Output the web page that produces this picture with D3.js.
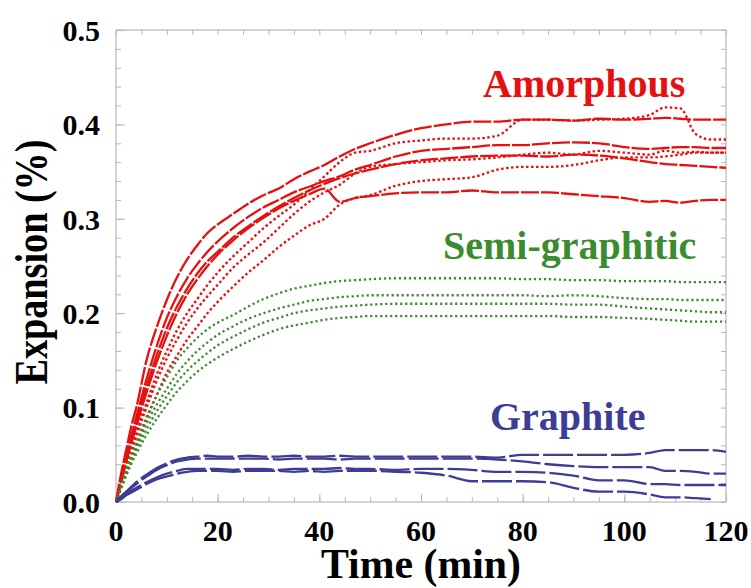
<!DOCTYPE html>
<html>
<head>
<meta charset="utf-8">
<script src="https://cdn.jsdelivr.net/npm/d3@7"></script>
<style>
  body { margin: 0; background: #fff; }
  svg { display: block; }
  text { font-family: "Liberation Serif", "Times New Roman", serif; font-weight: bold; }
</style>
</head>
<body>
<svg id="chart" width="751" height="588"></svg>
<script>
// time grid (min) shared by every curve
var time = [0,1,2,3,4,6,8,10,12,14,16,18,20,23,26,29,32,35,38,41,44,47,50,55,60,65,70,75,80,85,90,95,100,105,108,111,114,117,120];

// Amorphous (red) - long dash curves
var amorph1 = [0,0.03,0.055,0.08,0.1,0.15,0.185,0.214,0.238,0.257,0.272,0.285,0.294,0.305,0.316,0.325,0.332,0.342,0.35,0.357,0.366,0.374,0.38,0.389,0.396,0.4,0.403,0.403,0.405,0.405,0.404,0.406,0.405,0.406,0.407,0.406,0.405,0.405,0.405];
var amorph2 = [0,0.025,0.05,0.07,0.09,0.13,0.165,0.195,0.218,0.237,0.252,0.265,0.276,0.29,0.302,0.312,0.32,0.328,0.334,0.34,0.345,0.352,0.357,0.366,0.372,0.374,0.376,0.378,0.378,0.38,0.381,0.38,0.376,0.374,0.375,0.376,0.376,0.375,0.375];
var amorph3 = [0,0.022,0.045,0.065,0.084,0.122,0.155,0.184,0.207,0.226,0.242,0.255,0.265,0.28,0.292,0.303,0.313,0.322,0.33,0.337,0.343,0.348,0.352,0.358,0.362,0.364,0.366,0.367,0.367,0.366,0.368,0.367,0.364,0.36,0.358,0.357,0.356,0.355,0.354];
var amorph4 = [0,0.02,0.042,0.062,0.08,0.116,0.148,0.176,0.2,0.22,0.236,0.25,0.262,0.277,0.29,0.301,0.311,0.319,0.326,0.332,0.318,0.322,0.324,0.327,0.328,0.328,0.33,0.328,0.328,0.328,0.326,0.324,0.322,0.318,0.319,0.317,0.319,0.32,0.32];
// Amorphous (red) - dotted curves
var amorph5 = [0,0.02,0.04,0.058,0.075,0.105,0.135,0.16,0.182,0.2,0.215,0.23,0.243,0.26,0.275,0.29,0.303,0.315,0.33,0.345,0.36,0.37,0.372,0.38,0.383,0.385,0.385,0.388,0.405,0.405,0.404,0.405,0.406,0.41,0.418,0.417,0.39,0.384,0.384];
var amorph6 = [0,0.018,0.036,0.053,0.07,0.1,0.128,0.152,0.172,0.19,0.205,0.218,0.23,0.248,0.262,0.275,0.29,0.305,0.318,0.328,0.336,0.348,0.355,0.358,0.36,0.362,0.363,0.365,0.368,0.37,0.368,0.372,0.37,0.368,0.372,0.37,0.371,0.37,0.37];
var amorph7 = [0,0.015,0.03,0.045,0.06,0.088,0.113,0.137,0.155,0.172,0.186,0.2,0.212,0.228,0.243,0.256,0.27,0.282,0.293,0.3,0.315,0.322,0.325,0.335,0.34,0.342,0.344,0.352,0.355,0.355,0.357,0.362,0.365,0.365,0.366,0.368,0.37,0.37,0.37];

// Semi-graphitic (green) - dotted curves
var semi1 = [0,0.018,0.035,0.05,0.064,0.09,0.113,0.132,0.15,0.163,0.174,0.183,0.19,0.198,0.207,0.215,0.221,0.226,0.229,0.232,0.234,0.235,0.236,0.237,0.237,0.237,0.237,0.237,0.236,0.236,0.235,0.235,0.234,0.234,0.234,0.233,0.233,0.233,0.233];
var semi2 = [0,0.016,0.032,0.046,0.059,0.083,0.103,0.12,0.136,0.149,0.16,0.169,0.177,0.186,0.194,0.2,0.205,0.209,0.213,0.215,0.217,0.218,0.219,0.219,0.219,0.219,0.219,0.219,0.219,0.218,0.219,0.218,0.216,0.215,0.215,0.214,0.214,0.214,0.214];
var semi3 = [0,0.015,0.03,0.043,0.055,0.077,0.096,0.112,0.127,0.139,0.149,0.158,0.166,0.175,0.183,0.19,0.195,0.2,0.203,0.205,0.207,0.208,0.209,0.21,0.21,0.21,0.21,0.21,0.21,0.21,0.209,0.209,0.207,0.205,0.204,0.203,0.202,0.201,0.201];
var semi4 = [0,0.014,0.028,0.04,0.051,0.071,0.088,0.103,0.117,0.128,0.138,0.146,0.153,0.162,0.17,0.177,0.183,0.187,0.19,0.193,0.195,0.196,0.197,0.197,0.197,0.197,0.197,0.197,0.197,0.197,0.196,0.196,0.195,0.194,0.193,0.192,0.191,0.191,0.191];

// Graphite (blue) - long dash curves
var graph1 = [0,0.006,0.011,0.016,0.021,0.029,0.036,0.041,0.045,0.047,0.048,0.049,0.048,0.048,0.049,0.048,0.048,0.049,0.048,0.048,0.049,0.048,0.048,0.048,0.048,0.048,0.048,0.047,0.05,0.05,0.05,0.05,0.05,0.052,0.055,0.055,0.055,0.055,0.053];
var graph2 = [0,0.005,0.01,0.015,0.019,0.027,0.034,0.039,0.043,0.045,0.046,0.046,0.046,0.046,0.046,0.046,0.045,0.046,0.046,0.046,0.045,0.046,0.046,0.046,0.046,0.046,0.046,0.045,0.043,0.04,0.038,0.037,0.037,0.037,0.033,0.033,0.032,0.03,0.03];
var graph3 = [0,0.004,0.008,0.012,0.015,0.021,0.026,0.03,0.033,0.035,0.035,0.035,0.035,0.034,0.035,0.035,0.034,0.035,0.035,0.035,0.036,0.035,0.035,0.034,0.035,0.035,0.034,0.032,0.032,0.031,0.028,0.023,0.023,0.019,0.019,0.018,0.018,0.018,0.018];
var graph4 = [0,0.003,0.007,0.01,0.013,0.019,0.024,0.027,0.03,0.032,0.033,0.033,0.033,0.032,0.033,0.033,0.033,0.032,0.033,0.032,0.033,0.033,0.033,0.032,0.031,0.028,0.022,0.022,0.022,0.021,0.015,0.011,0.011,0.008,0.005,0.005,0.004,0.003,null];

// tick labels
var xTicks = [0,20,40,60,80,100,120];
var yTicks = [0.0,0.1,0.2,0.3,0.4,0.5];

var red = "#e5100f", green = "#3b8c2e", blue = "#3d3d98";
var series = [
  {v: amorph1, c: red, dash: "18,2"},
  {v: amorph2, c: red, dash: "18,2"},
  {v: amorph3, c: red, dash: "18,2"},
  {v: amorph4, c: red, dash: "18,2"},
  {v: amorph5, c: red, dash: "2.5,2.5"},
  {v: amorph6, c: red, dash: "2.5,2.5"},
  {v: amorph7, c: red, dash: "2.5,2.5"},
  {v: semi1, c: green, dash: "2.2,2.8"},
  {v: semi2, c: green, dash: "2.2,2.8"},
  {v: semi3, c: green, dash: "2.2,2.8"},
  {v: semi4, c: green, dash: "2.2,2.8"},
  {v: graph1, c: blue, dash: "30,4"},
  {v: graph2, c: blue, dash: "30,4"},
  {v: graph3, c: blue, dash: "30,4"},
  {v: graph4, c: blue, dash: "30,4"}
];

var plotL = 116, plotR = 726, plotT = 30, plotB = 502;
var svg = d3.select("#chart");

var x = d3.scaleLinear().domain([0, 120]).range([plotL, plotR]);
var y = d3.scaleLinear().domain([0, 0.5]).range([plotB, plotT]);

var frame = "#b8b8b8";

// tick marks on all four sides, pointing in
function tickSet(axis, sel) {
  sel.call(axis);
  sel.select(".domain").remove();
  sel.selectAll("line").attr("stroke", frame);
  sel.selectAll("text").remove();
}
var xMinor = d3.range(0, 121, 5), yMinor = d3.range(0, 0.501, 0.02);
tickSet(d3.axisBottom(x).tickValues(xMinor).tickSizeInner(-5), svg.append("g").attr("transform", "translate(0," + plotB + ")"));
tickSet(d3.axisTop(x).tickValues(xMinor).tickSizeInner(-5), svg.append("g").attr("transform", "translate(0," + plotT + ")"));
tickSet(d3.axisLeft(y).tickValues(yMinor).tickSizeInner(-5), svg.append("g").attr("transform", "translate(" + plotL + ",0)"));
tickSet(d3.axisRight(y).tickValues(yMinor).tickSizeInner(-5), svg.append("g").attr("transform", "translate(" + plotR + ",0)"));
tickSet(d3.axisBottom(x).tickValues(xTicks).tickSizeInner(-8), svg.append("g").attr("transform", "translate(0," + plotB + ")"));
tickSet(d3.axisLeft(y).tickValues(yTicks).tickSizeInner(-9), svg.append("g").attr("transform", "translate(" + plotL + ",0)"));

svg.append("rect")
    .attr("x", plotL).attr("y", plotT)
    .attr("width", plotR - plotL).attr("height", plotB - plotT)
    .attr("fill", "none").attr("stroke", frame).attr("stroke-width", 1.2);

// tick labels
svg.append("g").selectAll("text").data(xTicks).join("text")
    .attr("x", function(d){ return x(d); })
    .attr("y", 541)
    .attr("text-anchor", "middle")
    .style("font-size", "30px")
    .text(function(d){ return d; });

svg.append("g").selectAll("text").data(yTicks).join("text")
    .attr("x", 100)
    .attr("y", function(d){ return y(d); })
    .attr("dy", "0.36em")
    .attr("text-anchor", "end")
    .style("font-size", "30px")
    .text(function(d){ return d.toFixed(1); });

// axis titles
svg.append("text")
    .attr("x", (plotL + plotR) / 2).attr("y", 578)
    .attr("text-anchor", "middle")
    .attr("textLength", 200).attr("lengthAdjust", "spacingAndGlyphs")
    .style("font-size", "42px")
    .text("Time (min)");

svg.append("text")
    .attr("transform", "translate(47,262) rotate(-90)")
    .attr("text-anchor", "middle")
    .attr("textLength", 245).attr("lengthAdjust", "spacingAndGlyphs")
    .style("font-size", "46px")
    .text("Expansion (%)");

// curves
var line = d3.line()
    .defined(function(d){ return d[1] != null; })
    .x(function(d){ return x(d[0]); })
    .y(function(d){ return y(d[1]); })
    .curve(d3.curveMonotoneX);

series.forEach(function(s) {
  svg.append("path")
      .datum(time.map(function(t, i){ return [t, s.v[i]]; }))
      .attr("d", line)
      .attr("fill", "none")
      .attr("stroke", s.c)
      .attr("stroke-width", 2.3)
      .attr("stroke-dasharray", s.dash);
});

// group labels
svg.append("text").attr("x", 483).attr("y", 97)
    .style("font-size", "40px").style("fill", red).text("Amorphous");
svg.append("text").attr("x", 443).attr("y", 259)
    .style("font-size", "40px").style("fill", green).text("Semi-graphitic");
svg.append("text").attr("x", 490).attr("y", 430)
    .style("font-size", "40px").style("fill", blue).text("Graphite");
</script>
</body>
</html>
